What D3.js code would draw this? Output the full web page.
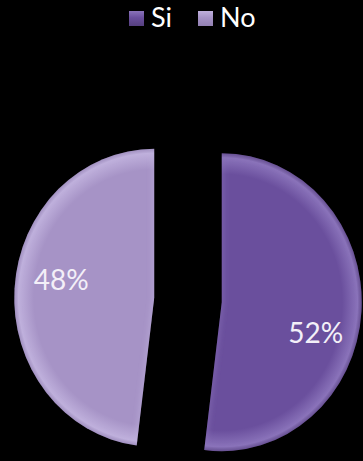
<!DOCTYPE html>
<html>
<head>
<meta charset="utf-8">
<script src="https://cdn.jsdelivr.net/npm/d3@7"></script>
<style>
  html, body { margin: 0; padding: 0; background: #000; }
  svg { display: block; }
</style>
</head>
<body>
<svg id="chart" width="363" height="461"></svg>
<script>
// Survey answers and their shares
const categories = ["Si", "No"];
const values = [52, 48];
const labels = ["52%", "48%"];

// Layout
const W = 363, H = 461;
const cx = 188, cy = 300;      // pie centre
const ry = 149, rx = 140;      // vertical / horizontal radius (pie is drawn slightly narrow)
const explode = 36;            // slice offset along its mid angle (unscaled units)
const baseColors = { Si: "#6a4f9d", No: "#a693c6" };
const lightColors = { Si: "#8a73ba", No: "#bfb0dc" };
const darkColors = { Si: "#56407f", No: "#9381b3" };
// label anchor offsets from each slice's own centre
const labelOffset = { Si: [94, 41], No: [-93, -8] };

const svg = d3.select("#chart");
const defs = svg.append("defs");

defs.append("filter").attr("id", "soft")
  .attr("x", "-10%").attr("y", "-10%").attr("width", "120%").attr("height", "120%")
  .append("feGaussianBlur").attr("stdDeviation", 2.5);

const pie = d3.pie().sort(null).startAngle(0).endAngle(2 * Math.PI);
const arcs = pie(values).map((d, i) => Object.assign(d, { key: categories[i], label: labels[i] }));
const arc = d3.arc().innerRadius(0).outerRadius(ry);

const sx = rx / ry;

const g = svg.append("g");

arcs.forEach((d, i) => {
  const mid = (d.startAngle + d.endAngle) / 2;
  const ox = Math.sin(mid) * explode * sx;
  const oy = -Math.cos(mid) * explode;
  const scx = cx + ox, scy = cy + oy;

  // radial shading: flat body easing into a soft lighter rim
  const rg = defs.append("radialGradient")
    .attr("id", "rg" + i)
    .attr("gradientUnits", "userSpaceOnUse")
    .attr("cx", 0).attr("cy", 0).attr("r", ry)
    .attr("fx", 0).attr("fy", 0);
  rg.append("stop").attr("offset", "0%").attr("stop-color", baseColors[d.key]);
  rg.append("stop").attr("offset", "86%").attr("stop-color", baseColors[d.key]);
  rg.append("stop").attr("offset", "97%").attr("stop-color", lightColors[d.key]);
  rg.append("stop").attr("offset", "100%").attr("stop-color", darkColors[d.key]);

  const path = arc(d);
  const clipId = "clip" + i;
  defs.append("clipPath").attr("id", clipId).append("path").attr("d", path);

  const sg = g.append("g")
    .attr("transform", `translate(${scx},${scy}) scale(${sx},1)`);

  sg.append("path")
    .attr("d", path)
    .attr("fill", `url(#rg${i})`);

  // bevel highlight along the cut edges
  sg.append("g").attr("clip-path", `url(#${clipId})`)
    .append("path")
    .attr("d", path)
    .attr("fill", "none")
    .attr("stroke", lightColors[d.key])
    .attr("stroke-width", 6)
    .attr("stroke-opacity", 0.4)
    .attr("filter", "url(#soft)");

  const [lx, ly] = labelOffset[d.key];
  g.append("text")
    .attr("x", scx + lx)
    .attr("y", scy + ly)
    .attr("text-anchor", "middle")
    .attr("font-family", "Lato, 'Open Sans', sans-serif")
    .attr("font-size", 28)
    .attr("fill", "#f3eff8")
    .text(d.label);
});

// Legend
const legend = svg.append("g");
const legendX = [129, 198];
categories.forEach((c, i) => {
  const lg = defs.append("linearGradient")
    .attr("id", "lg" + i).attr("x1", 0).attr("y1", 0).attr("x2", 0).attr("y2", 1);
  lg.append("stop").attr("offset", "0%").attr("stop-color", lightColors[c]);
  lg.append("stop").attr("offset", "45%").attr("stop-color", baseColors[c]);
  lg.append("stop").attr("offset", "100%").attr("stop-color", darkColors[c]);
  legend.append("rect")
    .attr("x", legendX[i]).attr("y", 11)
    .attr("width", 15).attr("height", 15)
    .attr("fill", `url(#lg${i})`);
  legend.append("text")
    .attr("x", legendX[i] + 22).attr("y", 27)
    .attr("font-family", "Lato, 'Open Sans', sans-serif")
    .attr("font-size", 27)
    .attr("fill", "#ffffff")
    .text(c);
});
</script>
</body>
</html>
